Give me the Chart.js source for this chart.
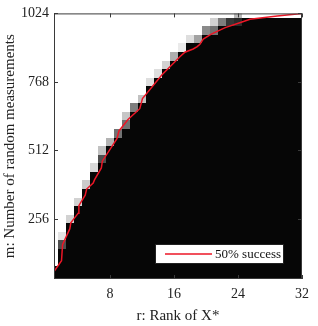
<!DOCTYPE html>
<html>
<head>
<meta charset="utf-8">
<script src="https://cdn.jsdelivr.net/npm/chart.js@4.4.1/dist/chart.umd.min.js"></script>
<style>
  html, body { margin: 0; padding: 0; background: #fff; }
  #wrap { width: 318px; height: 326px; }
</style>
</head>
<body>
<div id="wrap"><canvas id="phase"></canvas></div>
<script>
// grid of the experiment
const ranks = [1, 2, 3, 4, 5, 6, 7, 8, 9, 10, 11, 12, 13, 14, 15, 16,
               17, 18, 19, 20, 21, 22, 23, 24, 25, 26, 27, 28, 29, 30, 31, 32];
const mStep = 32;
const mMin = 32;
const mMax = 1024;

// highest all-fail (black) row for each rank
const blackTop = [64, 128, 224, 288, 352, 416, 448, 512, 544, 576, 640, 672, 736, 768, 800, 832,
                  864, 896, 896, 928, 928, 960, 960, 960, 992, 992, 992, 992, 992, 992, 992, 992];
// success rate of the first and second row above it (1 = white)
const firstEdge = [1, 0.3, 0.85, 0.85, 0.82, 0.88, 0.3, 0.72, 0.45, 0.45, 0.5, 0.78, 0.9, 0.9, 0.85, 0.7,
                   0.95, 0.9, 0.65, 0.55, 0.45, 0.5, 0.2, 0.15, 1, 1, 1, 1, 1, 1, 1, 1];
const secondEdge = [1, 0.92, 1, 1, 1, 1, 0.78, 1, 1, 0.8, 1, 1, 1, 1, 1, 1,
                    1, 1, 1, 1, 0.85, 1, 1, 0.75, 1, 1, 1, 1, 1, 1, 1, 1];

// 50% success curve
const lineR = [1, 1.94, 2.07, 2.98, 3.1, 4.03, 4.11, 4.9, 5.08, 5.9, 6.06, 6.92, 7.04, 8.87, 9.12,
               10.25, 11.72, 12.06, 14.5, 16.74, 17.36, 18.4, 18.9, 19.24, 19.66, 20.6, 22.4, 24.5,
               25.5, 28.9, 32];
const lineM = [60, 100, 160, 220, 242, 278, 306, 345, 368, 390, 402, 447, 472, 556, 585,
               628, 668, 706, 795, 862, 879, 891, 900, 909, 928, 946, 971, 992,
               1002, 1014, 1024];

const xTicks = [8, 16, 24, 32];
const yTicks = [256, 512, 768, 1024];

const redColor = "rgb(236,22,38)";
const serif = "'Liberation Serif', 'DejaVu Serif', serif";

function cellLevel(i, m) {
    const top = blackTop[i];
    if (m <= top) return 0;
    if (m === top + mStep) return firstEdge[i];
    if (m === top + 2 * mStep) return secondEdge[i];
    return 1;
}

const heatmap = {
    id: "heatmap",
    beforeDatasetsDraw(chart) {
        const { ctx, chartArea: a, scales: { x, y } } = chart;
        ctx.save();
        ctx.beginPath();
        ctx.rect(a.left, a.top, a.right - a.left, a.bottom - a.top);
        ctx.clip();
        ranks.forEach((r, i) => {
            for (let m = mMin; m <= mMax; m += mStep) {
                const lvl = cellLevel(i, m);
                if (lvl >= 1) continue;
                const x0 = Math.round(x.getPixelForValue(r - 0.5));
                const x1 = Math.round(x.getPixelForValue(r + 0.5));
                const y0 = Math.round(y.getPixelForValue(m + mStep / 2));
                const y1 = Math.round(y.getPixelForValue(m - mStep / 2));
                const g = Math.round(6 + lvl * 240);
                ctx.fillStyle = `rgb(${g},${g},${g})`;
                ctx.fillRect(x0, y0, x1 - x0, y1 - y0);
            }
        });
        ctx.restore();
    }
};

const frame = {
    id: "frame",
    afterDatasetsDraw(chart) {
        const { ctx, chartArea: a, scales: { x, y } } = chart;
        ctx.save();
        ctx.strokeStyle = "#3a3a3a";
        ctx.lineWidth = 1;
        ctx.strokeRect(a.left + 0.5, a.top + 0.5, a.right - a.left - 1, a.bottom - a.top - 1);
        ctx.beginPath();
        const len = 4;
        for (const v of xTicks) {
            const px = Math.round(x.getPixelForValue(v)) + 0.5;
            ctx.moveTo(px, a.bottom);
            ctx.lineTo(px, a.bottom - len);
            ctx.moveTo(px, a.top);
            ctx.lineTo(px, a.top + len);
        }
        for (const v of yTicks) {
            const py = Math.round(y.getPixelForValue(v)) + 0.5;
            ctx.moveTo(a.left, py);
            ctx.lineTo(a.left + len, py);
            ctx.moveTo(a.right, py);
            ctx.lineTo(a.right - len, py);
        }
        ctx.stroke();

        // legend box
        const bx = a.right - 147, by = a.bottom - 35, bw = 129, bh = 20;
        ctx.fillStyle = "#fff";
        ctx.fillRect(bx, by, bw, bh);
        ctx.strokeStyle = "#222";
        ctx.strokeRect(bx + 0.5, by + 0.5, bw - 1, bh - 1);
        ctx.strokeStyle = redColor;
        ctx.lineWidth = 1.5;
        ctx.beginPath();
        ctx.moveTo(bx + 10, by + 10);
        ctx.lineTo(bx + 57, by + 10);
        ctx.stroke();
        ctx.fillStyle = "#111";
        ctx.font = "13px " + serif;
        ctx.textBaseline = "middle";
        ctx.fillText("50% success", bx + 60, by + 10.5);
        ctx.restore();
    }
};

const ctx = document.getElementById("phase");

new Chart(ctx, {
    type: "scatter",
    data: {
        datasets: [{
            type: "line",
            label: "50% success",
            data: lineR.map((r, i) => ({ x: r, y: lineM[i] })),
            borderColor: redColor,
            borderWidth: 1.5,
            pointRadius: 0,
            tension: 0,
            fill: false,
        }],
    },
    options: {
        responsive: true,
        maintainAspectRatio: false,
        animation: false,
        events: [],
        layout: { padding: { top: 10, right: 16, left: 0, bottom: 0 } },
        plugins: { legend: { display: false }, tooltip: { enabled: false } },
        scales: {
            x: {
                type: "linear",
                min: 1,
                max: 32,
                grid: { display: false, drawTicks: false },
                border: { display: false },
                afterBuildTicks: (s) => { s.ticks = xTicks.map(v => ({ value: v })); },
                afterFit: (s) => { s.height = 47; },
                ticks: {
                    autoSkip: false,
                    maxRotation: 0,
                    padding: 7,
                    color: "#222",
                    font: { family: serif, size: 14 },
                    callback: (v) => String(v),
                },
                title: {
                    display: true,
                    text: "r: Rank of X*",
                    color: "#222",
                    font: { family: serif, size: 15 },
                    padding: { top: 1, bottom: 1 },
                },
            },
            y: {
                type: "linear",
                min: mMin,
                max: mMax,
                grid: { display: false, drawTicks: false },
                border: { display: false },
                afterBuildTicks: (s) => { s.ticks = yTicks.map(v => ({ value: v })); },
                afterFit: (s) => { s.width = 54; },
                ticks: {
                    autoSkip: false,
                    padding: 5,
                    color: "#222",
                    font: { family: serif, size: 14 },
                    callback: (v) => String(v),
                },
                title: {
                    display: true,
                    text: "m: Number of random measurements",
                    color: "#222",
                    font: { family: serif, size: 15 },
                    padding: { top: 1, bottom: 1 },
                },
            },
        },
    },
    plugins: [heatmap, frame],
});
</script>
</body>
</html>
